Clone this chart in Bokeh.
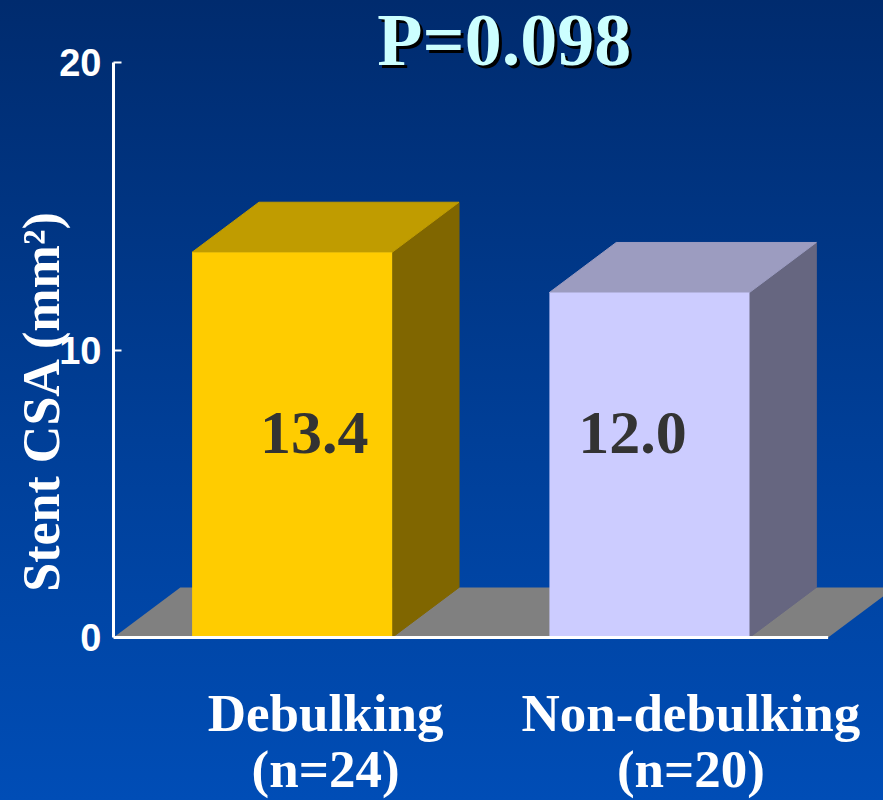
import math
from bokeh.plotting import figure
from bokeh.models import Range1d, FixedTicker, ColumnDataSource
from bokeh.core.properties import value
from bokeh.embed import file_html
from bokeh.resources import INLINE

# ---- data ----
categories = ["Debulking", "Non-debulking"]
group_sizes = ["(n=24)", "(n=20)"]
stent_csa = [13.4, 12.0]
y_ticks = [0, 10, 20]
p_value_text = "P=0.098"
y_title = "Stent CSA (mm\u00b2)"

# ---- style ----
front_colors = ["#ffcc00", "#ccccff"]
top_colors = ["#c09c00", "#9c9cc0"]
side_colors = ["#806600", "#666680"]
floor_color = "#808080"
bar_half = 0.28
depth_dx = 0.187
depth_dy = 1.74
value_label_shift_px = [22, -17]
category_shift_px = [0, 8]
serif = "Liberation Serif"
sans = "Liberation Sans"

n = len(categories)
pos = list(range(n))

p = figure(width=883, height=800, output_backend="svg", toolbar_location=None,
           x_axis_location=None, y_axis_location="left",
           x_range=Range1d(-0.5, 1.655), y_range=Range1d(-5.67, 22.157),
           min_border_left=113, min_border_right=0, min_border_top=0, min_border_bottom=0)
p.styles = {"background": "linear-gradient(180deg, #002b6e 0%, #003f98 55%, #004db6 100%)"}
p.border_fill_color = None
p.background_fill_color = None
p.outline_line_color = None
p.grid.visible = False

ax = p.yaxis[0]
ax.bounds = (0, 20)
ax.ticker = FixedTicker(ticks=y_ticks)
ax.axis_line_color = "white"
ax.axis_line_width = 3
ax.major_tick_line_color = "white"
ax.major_tick_line_width = 2
ax.major_tick_in = 8
ax.major_tick_out = 0
ax.minor_tick_line_color = None
ax.major_label_standoff = 12
ax.major_label_text_color = "white"
ax.major_label_text_font = sans
ax.major_label_text_font_style = "bold"
ax.major_label_text_font_size = "38px"
ax.axis_label = y_title
ax.axis_label_text_color = "white"
ax.axis_label_text_font = serif
ax.axis_label_text_font_style = "bold"
ax.axis_label_text_font_size = "52px"
ax.axis_label_standoff = -14

# floor
p.patch([-0.5, n - 0.5, n - 0.5 + depth_dx, -0.5 + depth_dx],
        [0, 0, depth_dy, depth_dy], fill_color=floor_color, line_color=None)

# bars
lefts = [x - bar_half for x in pos]
rights = [x + bar_half for x in pos]
side_xs = [[r, r + depth_dx, r + depth_dx, r] for r in rights]
side_ys = [[0, depth_dy, v + depth_dy, v] for v in stent_csa]
top_xs = [[l, r, r + depth_dx, l + depth_dx] for l, r in zip(lefts, rights)]
top_ys = [[v, v, v + depth_dy, v + depth_dy] for v in stent_csa]
p.patches(side_xs, side_ys, fill_color=side_colors, line_color=side_colors, line_width=1)
p.patches(top_xs, top_ys, fill_color=top_colors, line_color=top_colors, line_width=1)
p.quad(left=lefts, right=rights, bottom=0, top=stent_csa, fill_color=front_colors, line_color=None)

# baseline
p.segment(x0=[-0.5], y0=[0], x1=[n - 0.5], y1=[0], line_color="white", line_width=3)

# value labels
vsrc = ColumnDataSource(dict(x=pos, y=[7.1] * n, t=[f"{v:.1f}" for v in stent_csa],
                             xo=value_label_shift_px))
p.text(x="x", y="y", text="t", x_offset="xo", source=vsrc, text_color="#333333",
       text_font=value(serif), text_font_style="bold", text_font_size=value("62px"),
       text_align="center", text_baseline="alphabetic")

# category labels
csrc = ColumnDataSource(dict(x=[x + depth_dx / 2 for x in pos], c=categories, g=group_sizes,
                             xo=category_shift_px, y1=[-2.61] * n, y2=[-4.59] * n))
p.text(x="x", y="y1", text="c", x_offset="xo", source=csrc, text_color="white",
       text_font=value(serif), text_font_style="bold", text_font_size=value("53px"),
       text_align="center", text_baseline="alphabetic")
p.text(x="x", y="y2", text="g", x_offset="xo", source=csrc, text_color="white",
       text_font=value(serif), text_font_style="bold", text_font_size=value("53px"),
       text_align="center", text_baseline="alphabetic")

# title with shadow
tx = (n - 1) / 2 + depth_dx / 2
p.text(x=[tx], y=[20.8], text=[p_value_text], x_offset=3, y_offset=3, text_color="black",
       text_font=value(serif), text_font_style="bold", text_font_size=value("74px"),
       text_align="center", text_baseline="alphabetic")
p.text(x=[tx], y=[20.8], text=[p_value_text], text_color="#ccffff",
       text_font=value(serif), text_font_style="bold", text_font_size=value("74px"),
       text_align="center", text_baseline="alphabetic")

open("out.html", "w").write(file_html(p, INLINE))
